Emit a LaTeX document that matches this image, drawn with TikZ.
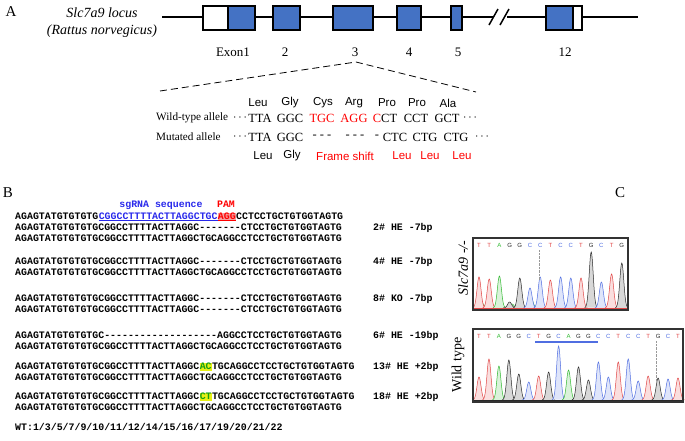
\documentclass[tikz,border=0pt]{standalone}
\usepackage{fontspec}
\setmainfont{Liberation Serif}
\newfontfamily\aafont{Liberation Sans}
\newfontfamily\seqfont{Liberation Mono}
\usepackage{tikz}
\usepackage{xcolor}

\definecolor{exonblue}{RGB}{68,114,196}
\definecolor{sgblue}{RGB}{40,40,235}
\definecolor{pampink}{RGB}{244,160,160}
\definecolor{hlyellow}{RGB}{232,240,20}
\definecolor{insgreen}{RGB}{20,160,20}
\definecolor{tr}{RGB}{225,70,70}
\definecolor{tg}{RGB}{50,185,50}
\definecolor{tb}{RGB}{80,110,225}
\definecolor{tk}{RGB}{40,40,40}

\newcommand{\chrompeak}[4]{\filldraw[draw=#4,fill=#4!18,line width=0.5pt] plot[domain=-6.5:6.5,samples=27,smooth] ({#1+\x},{#2-#3*exp(-\x*\x/8)});}

\tikzset{
  exon/.style={draw,line width=1.2pt,fill=exonblue},
  exonlbl/.style={font=\fontsize{13}{15}\selectfont,inner sep=0pt},
  codon/.style={font=\fontsize{12.5}{15}\selectfont,inner sep=0pt},
  allelelbl/.style={font=\fontsize{11.2}{13}\selectfont,anchor=west,inner sep=0pt},
  aa/.style={font=\aafont\fontsize{11.5}{13}\selectfont,inner sep=0pt},
  seqrow/.style={anchor=west,inner sep=0pt,font=\seqfont\bfseries\fontsize{9.9}{11}\selectfont,text height=6pt,text depth=1.6pt},
  baselet/.style={font=\aafont\fontsize{6}{7}\selectfont,inner sep=0pt},
  panel/.style={font=\fontsize{15}{17}\selectfont,inner sep=0pt}
}

\begin{document}
\begin{tikzpicture}[x=1pt,y=-1pt]
  \useasboundingbox (0,0) rectangle (685,440);
  % panel A
  \node[panel] (pa) at (11,12) {A};
  \node[font=\itshape\fontsize{14}{17}\selectfont,align=center,inner sep=0pt] (locus) at (102,22.5) {Slc7a9 locus\\(Rattus norvegicus)};
  \draw[line width=1.2pt] (162,17) -- (494,17) (507,17) -- (638,17);
  \draw[line width=1.5pt] (489,25) -- (498,9) (500,25) -- (509,9);
  \draw[exon,fill=white] (203,6) rectangle (228,30); \draw[exon] (228,6) rectangle (255,30);
  \draw[exon] (273,6) rectangle (300,30); \draw[exon] (333,6) rectangle (373,30);
  \draw[exon] (397,6) rectangle (421,30); \draw[exon] (451,6) rectangle (462,30);
  \draw[exon] (546,6) rectangle (573,30); \draw[exon,fill=white] (573,6) rectangle (582,30);
  \foreach \ex/\et in {233/Exon1, 285/2, 355/3, 409/4, 458/5, 565/12} \node[exonlbl] (ex\et) at (\ex,52) {\et};
  \draw[dashed,dash pattern=on 7pt off 4pt,line width=0.8pt] (160,91) -- (356,62) -- (476,92);
  \foreach \ax/\at in {258/Leu, 290/Gly, 323/Cys, 354/Arg, 387/Pro, 417/Pro, 448/Ala} \node[aa] at (\ax,103) {\at};
  \node[allelelbl] (wtlbl) at (156,118) {Wild-type allele};
  \node[allelelbl] (mutlbl) at (156,137) {Mutated allele};
  \foreach \cx/\ct in {240/{$\cdots$}, 260/TTA, 290/GGC, 322/{\textcolor{red}{TGC}}, 354/{\textcolor{red}{AGG}}, 385/{\textcolor{red}{C}CT}, 416/CCT, 447/GCT, 470/{$\cdots$}} \node[codon] at (\cx,118) {\ct};
  \foreach \cx/\ct in {240/{$\cdots$}, 260/TTA, 290/GGC, 322/{- - -}, 355/{- - -}, 377/-, 395/CTC, 425/CTG, 456/CTG, 482/{$\cdots$}} \node[codon] at (\cx,137) {\ct};
  \foreach \ax/\at in {263/Leu, 292/Gly, 345/{\textcolor{red}{Frame shift}}, 402/{\textcolor{red}{Leu}}, 430/{\textcolor{red}{Leu}}, 462/{\textcolor{red}{Leu}}} \node[aa] at (\ax,156) {\at};
  % panel B
  \node[panel] (pb) at (8,193) {B};
  \node[seqrow,anchor=center,text=sgblue] (sglbl) at (161,205) {sgRNA sequence};
  \node[seqrow,anchor=center,text=red] (pamlbl) at (226,205) {PAM};
  \node[seqrow] (r1a) at (15,217) {AGAGTATGTGTGTG};
  \node[seqrow,text=sgblue] (r1b) at (r1a.east) {CGGCCTTTTACTTAGGCTGC};
  \node[seqrow,text=red,fill=pampink] (r1c) at (r1b.east) {AGG};
  \node[seqrow] (r1d) at (r1c.east) {CCTCCTGCTGTGGTAGTG};
  \draw[sgblue,line width=0.6pt] ([yshift=-1.3pt]r1b.base west) -- ([yshift=-1.3pt]r1b.base east);
  \draw[red,line width=0.6pt] ([yshift=-1.3pt]r1c.base west) -- ([yshift=-1.3pt]r1c.base east);
  \node[seqrow] (r2) at (15,228) {AGAGTATGTGTGTGCGGCCTTTTACTTAGGC-------CTCCTGCTGTGGTAGTG};
  \node[seqrow] (r3) at (15,239) {AGAGTATGTGTGTGCGGCCTTTTACTTAGGCTGCAGGCCTCCTGCTGTGGTAGTG};
  \node[seqrow] (r4) at (15,262) {AGAGTATGTGTGTGCGGCCTTTTACTTAGGC-------CTCCTGCTGTGGTAGTG};
  \node[seqrow] (r5) at (15,273) {AGAGTATGTGTGTGCGGCCTTTTACTTAGGCTGCAGGCCTCCTGCTGTGGTAGTG};
  \node[seqrow] (r6) at (15,299) {AGAGTATGTGTGTGCGGCCTTTTACTTAGGC-------CTCCTGCTGTGGTAGTG};
  \node[seqrow] (r7) at (15,310) {AGAGTATGTGTGTGCGGCCTTTTACTTAGGC-------CTCCTGCTGTGGTAGTG};
  \node[seqrow] (r8) at (15,336) {AGAGTATGTGTGTGC-------------------AGGCCTCCTGCTGTGGTAGTG};
  \node[seqrow] (r9) at (15,347) {AGAGTATGTGTGTGCGGCCTTTTACTTAGGCTGCAGGCCTCCTGCTGTGGTAGTG};
  \node[seqrow] (r10a) at (15,367) {AGAGTATGTGTGTGCGGCCTTTTACTTAGGC};
  \node[seqrow,text=insgreen,fill=hlyellow] (r10b) at (r10a.east) {AC};
  \node[seqrow] (r10c) at (r10b.east) {TGCAGGCCTCCTGCTGTGGTAGTG};
  \node[seqrow] (r11) at (15,378) {AGAGTATGTGTGTGCGGCCTTTTACTTAGGCTGCAGGCCTCCTGCTGTGGTAGTG};
  \node[seqrow] (r12a) at (15,397) {AGAGTATGTGTGTGCGGCCTTTTACTTAGGC};
  \node[seqrow,text=insgreen,fill=hlyellow] (r12b) at (r12a.east) {CT};
  \node[seqrow] (r12c) at (r12b.east) {TGCAGGCCTCCTGCTGTGGTAGTG};
  \node[seqrow] (r13) at (15,408) {AGAGTATGTGTGTGCGGCCTTTTACTTAGGCTGCAGGCCTCCTGCTGTGGTAGTG};
  \node[seqrow] (wtline) at (15,428) {WT:1/3/5/7/9/10/11/12/14/15/16/17/19/20/21/22};
  \foreach \ly/\lt in {228/{2\# HE -7bp}, 262/{4\# HE -7bp}, 299/{8\# KO -7bp}, 336/{6\# HE -19bp}, 367/{13\# HE +2bp}, 397/{18\# HE +2bp}} \node[seqrow] at (373,\ly) {\lt};
  % panel C
  \node[panel] (pc) at (620,193) {C};
  \node[font=\itshape\fontsize{14}{16}\selectfont,rotate=90,inner sep=0pt] (kolbl) at (463,268) {Slc7a9 -/-};
  \node[font=\fontsize{14}{16}\selectfont,rotate=90,inner sep=0pt] (wtlbl2) at (458,365) {Wild type};
  \foreach \px/\pc/\ph in {482/tg/5, 491/tk/3, 512/tg/4, 531/tg/10, 540/tk/6, 551/tk/10, 570/tg/3, 580/tk/3, 610/tg/3}
    \chrompeak{\px}{308}{\ph}{\pc};
  \foreach \pc/\ph [count=\i from 0] in {tr/31, tr/29, tg/32, tk/6, tk/30, tb/20, tb/31, tr/28, tb/31, tb/30, tr/30, tk/56, tb/26, tr/34, tk/45}
    \chrompeak{479+10.2*\i}{308}{\ph}{\pc};
  \foreach \bl/\bc [count=\i from 0] in {T/tr, T/tr, A/tg, G/tk, G/tk, C/tb, C/tb, T/tr, C/tb, C/tb, T/tr, G/tk, C/tb, T/tr, G/tk}
    \node[baselet,text=\bc] at ({479+10.2*\i},245) {\bl};
  \draw[black!40,densely dotted] (539,250) -- (539,280);
  \draw[tr,line width=0.7pt] (474,308.5) -- (627,308.5);
  \draw[line width=1.2pt,black!80] (473,238) rectangle (628,310);
  \foreach \pc/\ph [count=\i from 0] in {tr/23, tr/41, tg/34, tk/40, tk/26, tb/18, tr/24, tk/28, tb/54, tg/30, tk/33, tk/20, tb/38, tb/23, tr/38, tb/41, tb/19, tr/24, tk/22, tb/21, tr/22}
    \chrompeak{479+9.95*\i}{400}{\ph}{\pc};
  \foreach \bl/\bc [count=\i from 0] in {T/tr, T/tr, A/tg, G/tk, G/tk, C/tb, T/tr, G/tk, C/tb, A/tg, G/tk, G/tk, C/tb, C/tb, T/tr, C/tb, C/tb, T/tr, G/tk, C/tb, T/tr}
    \node[baselet,text=\bc] at ({479+9.95*\i},336) {\bl};
  \draw[black!40,densely dotted] (656,341) -- (656,382);
  \draw[tb,line width=1.2pt] (535,342) -- (598,342);
  \draw[tk,line width=0.7pt] (474,400.5) -- (682,400.5);
  \draw[line width=1.2pt,black!80] (473,329) rectangle (683,402);
\end{tikzpicture}
\end{document}
